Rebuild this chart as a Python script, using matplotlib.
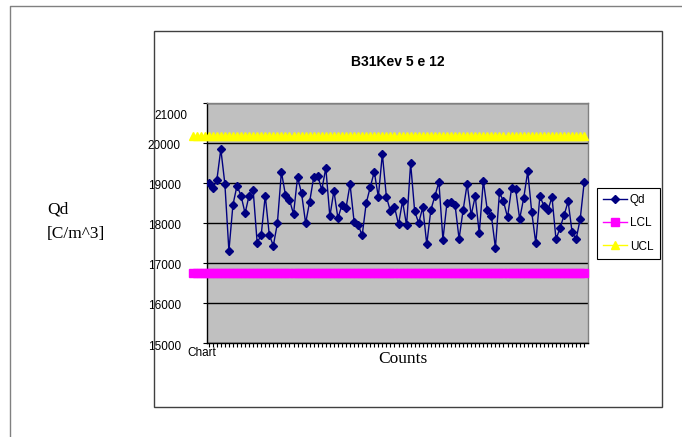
import numpy as np
import matplotlib
matplotlib.use('Agg')
import matplotlib.pyplot as plt
import matplotlib.transforms as mtransforms
from matplotlib.lines import Line2D
from matplotlib.patches import Rectangle

# Chart texts
title = "B31Kev 5 e 12"
y_label = "Qd\n[C/m^3]"
x_label = "Counts"
first_category = "Chart"
series_names = ["Qd", "LCL", "UCL"]

# Qd values, one per count
qd = [19000, 18870, 19060, 19840, 18975, 17300, 18450, 18925, 18680, 18240,
      18680, 18825, 17500, 17700, 18680, 17700, 17430, 17985, 19270, 18700,
      18575, 18220, 19140, 18735, 17990, 18530, 19140, 19175, 18825, 19370,
      18160, 18800, 18115, 18450, 18370, 18965, 18030, 17950, 17685, 18490,
      18890, 19275, 18650, 19720, 18650, 18290, 18400, 17965, 18540, 17935,
      19490, 18290, 17995, 18390, 17465, 18320, 18665, 19020, 17580, 18500,
      18510, 18450, 17600, 18320, 18970, 18195, 18665, 17735, 19055, 18310,
      18175, 17375, 18760, 18535, 18140, 18865, 18845, 18100, 18615, 19285,
      18260, 17490, 18660, 18430, 18310, 18650, 17590, 17870, 18190, 18535,
      17760, 17600, 18100, 19030]

# control limits
lcl_value = 16760
ucl_value = 20160

y_ticks = [15000, 16000, 17000, 18000, 19000, 20000, 21000]

W, H = 682, 437


def fx(px):
    """pixel x -> figure fraction"""
    return px / W


def fy(py):
    """pixel y (from top) -> figure fraction"""
    return 1 - py / H


def draw_frames(fig):
    # outer sheet border (only left and top visible)
    fig.add_artist(Line2D([fx(10), fx(10), 1], [0, fy(6), fy(6)],
                          transform=fig.transFigure, color='#808080', lw=1))
    # chart area border
    fig.add_artist(Rectangle((fx(153.5), fy(407)), fx(662) - fx(153.5), fy(31) - fy(407),
                             transform=fig.transFigure, fill=False,
                             edgecolor='#404040', lw=1))


def draw_chart():
    plt.rcParams['font.family'] = ['Liberation Sans', 'DejaVu Sans']
    fig = plt.figure(figsize=(W / 100, H / 100), dpi=100)
    draw_frames(fig)

    ax = fig.add_axes([fx(207.3), fy(343), fx(588.3) - fx(207.3), fy(102.7) - fy(343)])
    ax.set_facecolor('#C0C0C0')

    n = len(qd)
    x = np.arange(n)
    # the limit bands start a few counts before the axis in the original
    x_lim = np.arange(-4, n)
    lcl = np.full(len(x_lim), lcl_value)
    ucl = np.full(len(x_lim), ucl_value)

    l_ucl, = ax.plot(x_lim, ucl, color='#FFFF00', marker='^', ms=5.5, mec='#FFFF00',
                     lw=1, clip_on=False, zorder=3, label=series_names[2])
    l_lcl, = ax.plot(x_lim, lcl, color='#FF00FF', marker='s', ms=5.5, mec='#FF00FF',
                     lw=1, clip_on=False, zorder=3, label=series_names[1])
    l_qd, = ax.plot(x, qd, color='#000080', marker='D', ms=4.2, mec='#000080',
                    lw=1, zorder=4, label=series_names[0])

    ax.set_xlim(-0.35, n)
    ax.set_ylim(y_ticks[0], y_ticks[-1])

    # grid
    ax.set_axisbelow(True)
    ax.yaxis.grid(True, color='black', lw=1)

    for side in ['top', 'right']:
        ax.spines[side].set_color('#808080')
    for side in ['left', 'bottom']:
        ax.spines[side].set_color('black')
    for sp in ax.spines.values():
        sp.set_linewidth(1)

    ax.set_xticks(x)
    ax.set_xticklabels([])
    ax.tick_params(axis='x', length=3, width=0.8, direction='out')

    ax.set_yticks(y_ticks)
    ax.set_yticklabels([str(v) for v in y_ticks[:-1]] + [""])
    ax.tick_params(axis='y', length=3, width=0.8, direction='out', labelsize=8.5, pad=16)
    shift = mtransforms.ScaledTranslation(0, -2 / 100, fig.dpi_scale_trans)
    for lab in ax.get_yticklabels():
        lab.set_transform(lab.get_transform() + shift)
    # top label sits lower than its gridline
    top_off = mtransforms.offset_copy(ax.get_yaxis_transform(), fig=fig, x=0, y=-7, units='dots')
    ax.text(-0.053, y_ticks[-1], str(y_ticks[-1]), transform=top_off,
            ha='right', va='top', fontsize=8.5)

    # category label on first count
    off = mtransforms.offset_copy(ax.get_xaxis_transform(), fig=fig, x=-7, y=-4, units='dots')
    ax.text(0, 0, first_category, transform=off, ha='center', va='top', fontsize=8.5)

    fig.text(fx(397.5), fy(61.5), title, ha='center', va='center',
             fontsize=10, fontweight='bold')
    fig.text(fx(403), fy(359), x_label, ha='center', va='center',
             fontsize=12.5, family='Liberation Serif')
    fig.text(fx(47), fy(221.5), y_label, ha='left', va='center',
             fontsize=12.5, family='Liberation Serif', linespacing=1.75)

    leg = ax.legend(handles=[l_qd, l_lcl, l_ucl], loc='upper left',
                    bbox_to_anchor=(fx(596.7), fy(187.7)), bbox_transform=fig.transFigure,
                    borderaxespad=0, fancybox=False, framealpha=1, edgecolor='black',
                    fontsize=8.5, handlelength=2.0, handletextpad=0.25,
                    labelspacing=0.95, borderpad=0.55, numpoints=1)
    leg.get_frame().set_linewidth(0.8)

    fig.savefig('out.png', dpi=100)


if __name__ == '__main__':
    draw_chart()
